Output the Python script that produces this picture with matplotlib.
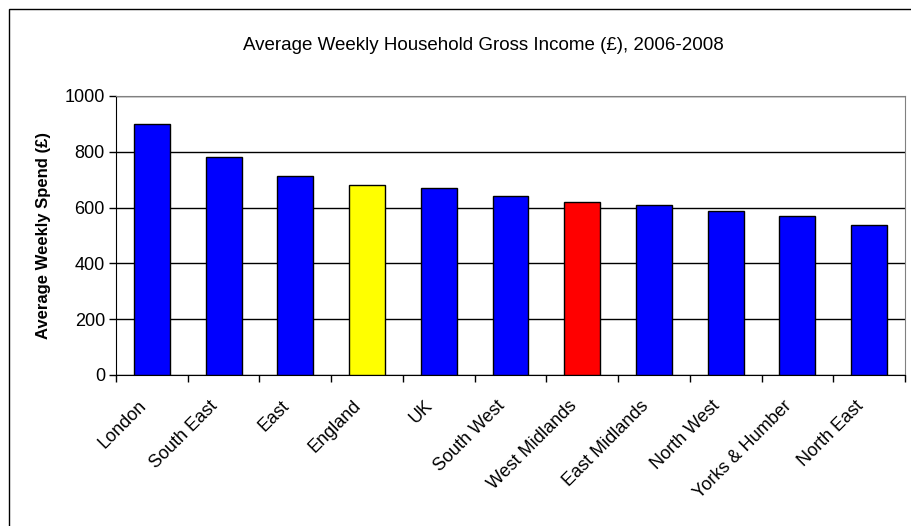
import numpy as np
import matplotlib
matplotlib.use("Agg")
import matplotlib.pyplot as plt
from matplotlib.patches import Rectangle
from matplotlib.ticker import FixedLocator

plt.rcParams['font.family'] = ['Liberation Sans', 'DejaVu Sans']

regions = ["London", "South East", "East", "England", "UK", "South West",
           "West Midlands", "East Midlands", "North West", "Yorks & Humber", "North East"]
income = [901, 783, 712, 680, 669, 642, 619, 609, 588, 571, 539]
colours = ["#0000FF", "#0000FF", "#0000FF", "#FFFF00", "#0000FF", "#0000FF",
           "#FF0000", "#0000FF", "#0000FF", "#0000FF", "#0000FF"]

fig = plt.figure(figsize=(9.12, 5.26), dpi=100)
ax = fig.add_axes([0.1272, 0.2871, 0.8651, 0.5304])

# cadre du graphique (seulement haut et gauche visibles)
fig.patches.append(Rectangle((9/912, -0.1), 1.2, 1 - 9/526 + 0.1, transform=fig.transFigure,
                             fill=False, edgecolor="black", linewidth=1))

x = np.arange(len(regions))
ax.bar(x, income, width=0.5, color=colours, edgecolor="black", linewidth=1, zorder=3)

ax.set_xlim(-0.5, len(regions) - 0.5)
ax.set_ylim(0, 1000)
ax.set_yticks(np.arange(0, 1001, 200))
ax.yaxis.grid(True, color="black", linewidth=1, zorder=0)
ax.set_axisbelow(True)

# ticks aux limites des categories, labels un peu a gauche du centre
ax.xaxis.set_major_locator(FixedLocator(np.arange(-0.5, len(regions), 1)))
ax.xaxis.set_major_formatter(plt.NullFormatter())
ax.set_xticks(x - 0.2, minor=True)
ax.set_xticklabels(regions, minor=True, rotation=45, ha="right",
                   rotation_mode="anchor", fontsize=13)
ax.tick_params(axis="x", which="minor", length=0, pad=16)
ax.tick_params(axis="x", which="major", length=5, direction="out", width=1)
ax.tick_params(axis="y", length=5, direction="out", width=1, labelsize=13, pad=3)

ax.spines["top"].set_color("#808080")
ax.spines["right"].set_color("#808080")
ax.spines["left"].set_color("black")
ax.spines["bottom"].set_color("black")

ax.set_ylabel("Average Weekly Spend (£)", fontsize=12, fontweight="bold", labelpad=10)
fig.text(0.53, 0.914, "Average Weekly Household Gross Income (£), 2006-2008",
         ha="center", va="center", fontsize=13.5)

fig.savefig("out.png", dpi=100)
